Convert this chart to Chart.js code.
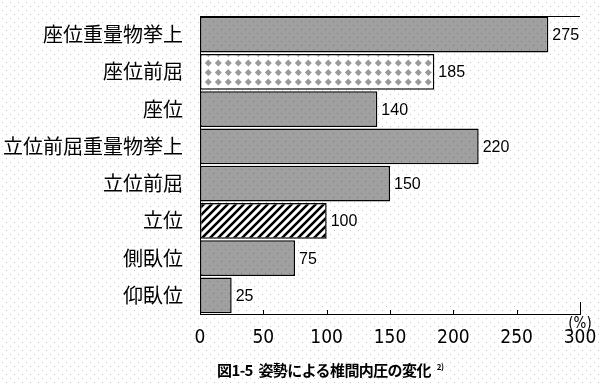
<!DOCTYPE html>
<html>
<head>
<meta charset="utf-8">
<script src="https://cdn.jsdelivr.net/npm/chart.js@4/dist/chart.umd.min.js"></script>
<style>
  html, body { margin: 0; padding: 0; background: #fff; }
  #wrap { position: relative; width: 600px; height: 386px; overflow: hidden; }
  #chart { position: absolute; left: 0; top: 0; }
  #caption {
    position: absolute; left: 217px; top: 359px;
    font-family: "Noto Sans CJK JP", sans-serif; font-weight: bold; font-size: 15px;
    color: #000; white-space: nowrap; letter-spacing: -0.6px;
  }
  #caption sup { font-size: 8px; vertical-align: 6px; margin-left: 6px; }
</style>
</head>
<body>
<div id="wrap">
  <canvas id="chart" width="600" height="386"></canvas>
  <div id="caption">図1-5&nbsp; 姿勢による椎間内圧の変化<sup>2)</sup></div>
</div>
<script>
// 姿勢ごとの椎間内圧（立位 = 100%）
const categories = ['座位重量物挙上', '座位前屈', '座位', '立位前屈重量物挙上', '立位前屈', '立位', '側臥位', '仰臥位'];
const pressures = [275, 185, 140, 220, 150, 100, 75, 25];
const xTicks = [0, 50, 100, 150, 200, 250, 300];
const fillKinds = ['gray', 'diamond', 'gray', 'gray', 'gray', 'hatch', 'gray', 'gray'];

function makeTile(w, h, paint) {
    const c = document.createElement('canvas');
    c.width = w; c.height = h;
    paint(c.getContext('2d'));
    return c;
}

const ctx = document.getElementById('chart').getContext('2d');

const patterns = {
    gray: ctx.createPattern(makeTile(8, 8, g => {
        g.fillStyle = '#a0a0a0'; g.fillRect(0, 0, 8, 8);
        g.fillStyle = '#7e7e7e';
        g.fillRect(1, 1, 1, 1); g.fillRect(5, 5, 1, 1);
    }), 'repeat'),
    diamond: ctx.createPattern(makeTile(10, 19, g => {
        g.fillStyle = '#fff'; g.fillRect(0, 0, 10, 19);
        g.fillStyle = '#999';
        [[8.3, 6], [8.3, 15.5], [-1.7, 6], [-1.7, 15.5]].forEach(([cx, cy]) => {
            g.beginPath();
            g.moveTo(cx, cy - 3.5); g.lineTo(cx + 3.5, cy);
            g.lineTo(cx, cy + 3.5); g.lineTo(cx - 3.5, cy);
            g.closePath(); g.fill();
        });
    }), 'repeat'),
    hatch: ctx.createPattern(makeTile(8, 8, g => {
        g.fillStyle = '#fff'; g.fillRect(0, 0, 8, 8);
        g.strokeStyle = '#000'; g.lineWidth = 2.6;
        g.beginPath();
        g.moveTo(-2, 10); g.lineTo(10, -2);
        g.moveTo(-6, 6); g.lineTo(6, -6);
        g.moveTo(2, 14); g.lineTo(14, 2);
        g.stroke();
    }), 'repeat')
};

// 背景のドット、上枠線、目盛り、数値ラベル
const decorPlugin = {
    id: 'decor',
    beforeDraw(chart) {
        const c = chart.ctx;
        c.save();
        c.fillStyle = '#fff';
        c.fillRect(0, 0, chart.width, chart.height);
        c.fillStyle = '#c6c6cc';
        for (let y = 2; y < chart.height; y += 8) {
            for (let x = 2; x < chart.width; x += 8) {
                c.fillRect(x, y, 1, 1);
                c.fillRect(x + 4, y + 4, 1, 1);
            }
        }
        c.restore();
    },
    afterDraw(chart) {
        const c = chart.ctx;
        const area = chart.chartArea;
        const xs = chart.scales.x;
        c.save();
        c.strokeStyle = '#000';
        c.lineWidth = 1;
        c.beginPath();
        c.moveTo(area.left, area.top + 0.5);
        c.lineTo(area.right, area.top + 0.5);
        xTicks.slice(1).forEach(v => {
            const px = Math.round(xs.getPixelForValue(v)) + 0.5;
            const len = v === xTicks[xTicks.length - 1] ? 12 : 4;
            c.moveTo(px, area.bottom);
            c.lineTo(px, area.bottom - len);
        });
        c.stroke();

        c.fillStyle = '#000';
        c.font = '16px "Liberation Sans", Arial, sans-serif';
        c.textAlign = 'left';
        c.textBaseline = 'middle';
        chart.getDatasetMeta(0).data.forEach((bar, i) => {
            c.fillText(String(pressures[i]), bar.x + 4, bar.y + 1);
        });

        c.font = '15px "Liberation Sans Narrow", "DejaVu Sans Condensed", sans-serif';
        c.textAlign = 'center';
        c.fillText('(%)', xs.getPixelForValue(300), area.bottom + 10);
        c.restore();
    }
};

new Chart(ctx, {
    type: 'bar',
    data: {
        labels: categories,
        datasets: [{
            data: pressures,
            backgroundColor: fillKinds.map(k => patterns[k]),
            borderColor: '#000',
            borderWidth: 1.5,
            borderSkipped: false,
            categoryPercentage: 1,
            barPercentage: 0.96
        }]
    },
    options: {
        indexAxis: 'y',
        responsive: false,
        animation: false,
        devicePixelRatio: 1,
        layout: { padding: { top: 16, right: 20, bottom: 0, left: 0 } },
        scales: {
            x: {
                min: xTicks[0],
                max: xTicks[xTicks.length - 1],
                ticks: {
                    stepSize: 50,
                    padding: 13,
                    color: '#000',
                    font: { family: '"Liberation Sans Narrow", "DejaVu Sans Condensed", sans-serif', size: 19 }
                },
                grid: { display: false, drawTicks: false },
                border: { display: true, color: '#000', width: 1 },
                afterFit: axis => {
                    axis.height = 72;
                    axis.paddingLeft = 0;
                    axis.paddingRight = 0;
                }
            },
            y: {
                ticks: {
                    padding: 17,
                    color: '#000',
                    font: { family: '"Noto Sans CJK JP", sans-serif', size: 20 }
                },
                grid: { display: false, drawTicks: false },
                border: { display: true, color: '#000', width: 1 },
                afterFit: axis => {
                    axis.width = 200;
                    axis.paddingTop = 0;
                    axis.paddingBottom = 0;
                }
            }
        },
        plugins: {
            legend: { display: false },
            tooltip: { enabled: false }
        }
    },
    plugins: [decorPlugin]
});
</script>
</body>
</html>
